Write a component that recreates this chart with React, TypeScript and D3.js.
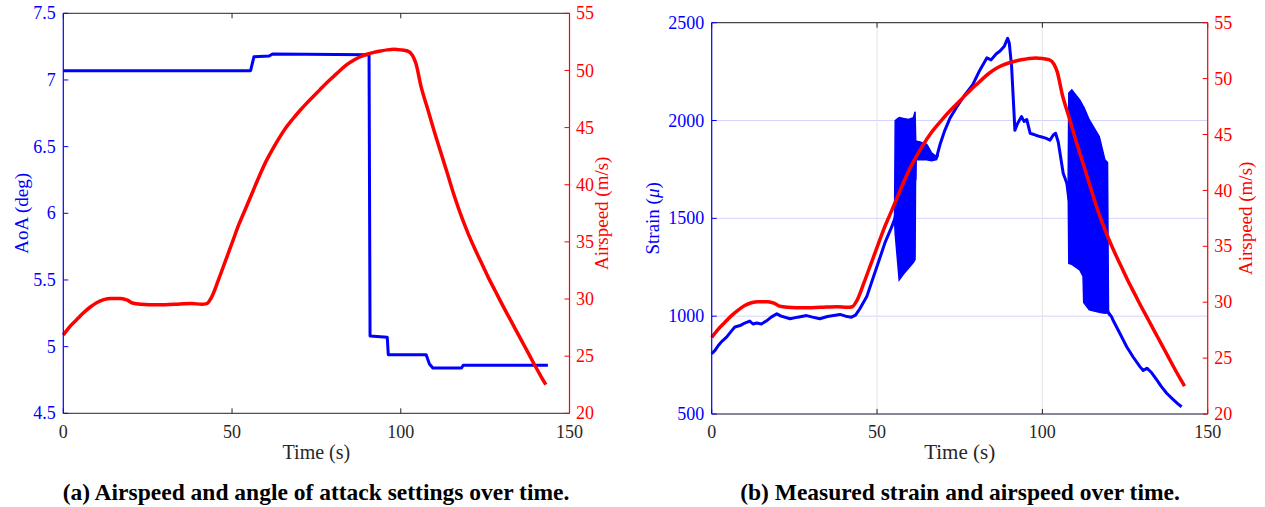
import React from 'react';
import * as d3 from 'd3';

// ---------- data ----------
const xTicks = [0, 50, 100, 150];
const aoaTicks = [4.5, 5, 5.5, 6, 6.5, 7, 7.5];
const airspeedTicks = [20, 25, 30, 35, 40, 45, 50, 55];
const strainTicks = [500, 1000, 1500, 2000, 2500];

// airspeed (m/s) vs time (s)
const airspeedData: [number, number][] = [
  [0, 26.85], [2, 27.6], [4, 28.2], [6, 28.8], [8, 29.3], [10, 29.7], [12, 29.95], [14, 30.05],
  [17, 30.05], [19, 29.9], [20.5, 29.65], [23, 29.55], [28, 29.5], [33, 29.55], [38, 29.6],
  [41, 29.55], [42.5, 29.6], [44, 30.2], [46, 31.7], [48, 33.3], [50, 34.9], [52, 36.5],
  [54, 37.9], [56, 39.3], [58, 40.7], [60, 42.0], [62, 43.1], [64, 44.1], [66, 45.0],
  [68, 45.75], [70, 46.45], [72, 47.1], [74, 47.7], [76, 48.3], [78, 48.9], [80, 49.45],
  [82, 50.0], [84, 50.5], [86, 50.9], [88, 51.2], [90, 51.42], [92, 51.58], [94, 51.7],
  [96, 51.8], [98, 51.85], [100, 51.8], [102, 51.7], [103.5, 51.3], [104.5, 50.6],
  [106, 48.6], [108, 46.6], [110, 44.6], [112, 42.7], [114, 40.8], [116, 38.9], [118, 37.2],
  [120, 35.7], [122, 34.35], [124, 33.1], [126, 31.85], [128, 30.7], [130, 29.55],
  [132, 28.45], [134, 27.35], [136, 26.25], [138, 25.15], [140, 24.05], [142, 23.0], [143, 22.5],
];

// angle of attack (deg) vs time (s)
const aoaData: [number, number][] = [
  [0, 7.07], [55.5, 7.07], [56.5, 7.175], [61, 7.18], [62, 7.195], [90.6, 7.19],
  [90.9, 5.08], [96, 5.07], [96.3, 4.94], [107.5, 4.94], [108.5, 4.87], [109.5, 4.84],
  [118, 4.84], [118.5, 4.86], [143.6, 4.86],
];

// strain (micro) vs time (s)
const strainData: [number, number][] = [
  [0, 808], [1, 825], [2, 850], [3, 870], [4.5, 893], [6, 925], [7, 945], [8.6, 952],
  [10, 965], [11.5, 975], [12.5, 960], [13.6, 965], [15, 960], [16.5, 975], [18, 995],
  [19.7, 1012], [21, 1000], [23.7, 987], [26, 995], [28.7, 1003], [30.5, 995], [32.7, 987],
  [35, 998], [38.8, 1009], [40.5, 1000], [42.3, 995], [43.5, 1005], [44.8, 1038],
  [46.9, 1100], [48.9, 1200], [50.9, 1300], [52.5, 1380], [54.4, 1455], [55.4, 1500],
  [56.5, 1600], [61.5, 1700], [61.7, 1885], [63, 1880], [65, 1870], [66.5, 1820],
  [68, 1812], [69.1, 1880], [70.5, 1950], [72, 2010], [74, 2067], [76.5, 2130], [79, 2185],
  [81, 2255], [83.2, 2320], [84.5, 2310], [86, 2340], [87.2, 2355], [88.5, 2380],
  [89.5, 2420], [90, 2395], [90.7, 2275], [91.7, 1950], [92.5, 1985], [93.7, 2020],
  [94.5, 1995], [95.3, 2005], [96.3, 1935], [98, 1925], [99.3, 1918], [101, 1910],
  [102.3, 1900], [103.3, 1926], [104, 1935], [104.8, 1890], [106.3, 1730], [107.4, 1679],
  [108, 1600], [114, 1300], [119.9, 1020], [120.9, 998], [121.5, 975], [123.5, 910],
  [125.5, 844], [127.5, 790], [129.5, 742], [130.5, 722], [131.6, 734], [133, 712],
  [134.6, 674], [136, 640], [137.6, 606], [139.5, 575], [141, 552], [142.1, 537],
];

// oscillation envelopes of the strain signal: [time, high, low]
const strainBand1: [number, number, number][] = [
  [55.3, 1500, 1490], [55.5, 2000, 1420], [56.7, 2015, 1185], [58, 2010, 1215],
  [59.5, 2005, 1245], [61, 2015, 1275], [61.5, 2045, 1290], [61.7, 1890, 1870],
];
const strainBand3: [number, number, number][] = [
  [61.6, 1895, 1800], [63, 1890, 1800], [65, 1878, 1800], [66.5, 1835, 1795],
  [68, 1815, 1800], [68.5, 1830, 1822],
];
const strainBand2: [number, number, number][] = [
  [107.8, 1690, 1660], [108.0, 2140, 1270], [108.9, 2156, 1265], [111.3, 2105, 1236],
  [112.3, 2075, 1205], [112.5, 2070, 1070], [114.2, 2003, 1032], [117.2, 1918, 1020],
  [118.9, 1800, 1015], [119.7, 1785, 1018], [120.0, 1030, 1010],
];

// ---------- styling ----------
const FONT = "'Liberation Serif', 'Times New Roman', serif";
const BLUE = '#0000ff';
const RED = '#ff0000';
const AX = '#262626';
const W = 1265;
const H = 507;
const TICK = 5;

type AxesProps = {
  x: d3.ScaleLinear<number, number>;
  yL: d3.ScaleLinear<number, number>;
  yR: d3.ScaleLinear<number, number>;
  leftTicks: number[];
  leftLabel: React.ReactNode;
  leftLabelX: number;
  rightLabelX: number;
  timeSize: number;
};

function Frame({ x, yL, yR, leftTicks, leftLabel, leftLabelX, rightLabelX, timeSize }: AxesProps) {
  const [xa, xb] = x.range();
  const [yb, ya] = yL.range();
  const midY = (ya + yb) / 2;
  return (
    <g fontFamily={FONT}>
      <line x1={xa} x2={xb} y1={ya} y2={ya} stroke={AX} strokeWidth={1} />
      <line x1={xa} x2={xb} y1={yb} y2={yb} stroke={AX} strokeWidth={1} />
      {xTicks.map((t) => (
        <g key={'xt' + t}>
          <line x1={x(t)} x2={x(t)} y1={yb} y2={yb - TICK} stroke={AX} />
          <line x1={x(t)} x2={x(t)} y1={ya} y2={ya + TICK} stroke={AX} />
          <text x={x(t)} y={438} fontSize={18} fill={AX} textAnchor="middle">
            {t}
          </text>
        </g>
      ))}
      <line x1={xa} x2={xa} y1={ya} y2={yb} stroke={BLUE} strokeWidth={1.2} />
      {leftTicks.map((t) => (
        <g key={'yl' + t}>
          <line x1={xa} x2={xa + TICK} y1={yL(t)} y2={yL(t)} stroke={BLUE} />
          <text x={xa - 7.5} y={yL(t)} dy="0.34em" fontSize={18} fill={BLUE} textAnchor="end">
            {t}
          </text>
        </g>
      ))}
      <line x1={xb} x2={xb} y1={ya} y2={yb} stroke={RED} strokeWidth={1.2} />
      {airspeedTicks.map((t) => (
        <g key={'yr' + t}>
          <line x1={xb} x2={xb - TICK} y1={yR(t)} y2={yR(t)} stroke={RED} />
          <text x={xb + 6.5} y={yR(t)} dy="0.34em" fontSize={18} fill={RED} textAnchor="start">
            {t}
          </text>
        </g>
      ))}
      <text x={(xa + xb) / 2} y={459} fontSize={timeSize} fill={AX} textAnchor="middle">
        Time (s)
      </text>
      <text
        transform={`translate(${leftLabelX},${midY}) rotate(-90)`}
        fontSize={19}
        fill={BLUE}
        textAnchor="middle"
      >
        {leftLabel}
      </text>
      <text
        transform={`translate(${rightLabelX},${midY}) rotate(-90)`}
        fontSize={19}
        fill={RED}
        textAnchor="middle"
      >
        Airspeed (m/s)
      </text>
    </g>
  );
}

export default function App() {
  const xA = d3.scaleLinear().domain([0, 150]).range([63.3, 569.5]);
  const yAoA = d3.scaleLinear().domain([4.5, 7.5]).range([413.3, 13.3]);
  const ySpdA = d3.scaleLinear().domain([20, 55]).range([413.3, 13.3]);

  const xB = d3.scaleLinear().domain([0, 150]).range([711.7, 1207.7]);
  const yStr = d3.scaleLinear().domain([500, 2500]).range([414, 22.7]);
  const ySpdB = d3.scaleLinear().domain([20, 55]).range([414, 22.7]);

  const lineA_aoa = d3.line<[number, number]>().x((d) => xA(d[0])).y((d) => yAoA(d[1]));
  const lineA_spd = d3
    .line<[number, number]>()
    .x((d) => xA(d[0]))
    .y((d) => ySpdA(d[1]))
    .curve(d3.curveMonotoneX);
  const lineB_str = d3.line<[number, number]>().x((d) => xB(d[0])).y((d) => yStr(d[1]));
  const lineB_spd = d3
    .line<[number, number]>()
    .x((d) => xB(d[0]))
    .y((d) => ySpdB(d[1]))
    .curve(d3.curveMonotoneX);
  const bandArea = d3
    .area<[number, number, number]>()
    .x((d) => xB(d[0]))
    .y0((d) => yStr(d[2]))
    .y1((d) => yStr(d[1]));

  return (
    <svg
      width={W}
      height={H}
      viewBox={`0 0 ${W} ${H}`}
      style={{ position: 'absolute', left: 0, top: 0, background: '#fff' }}
    >
      <rect width={W} height={H} fill="#fff" />

      {/* ===== panel (a) ===== */}
      <g>
        <path d={lineA_aoa(aoaData) ?? ''} fill="none" stroke={BLUE} strokeWidth={3} strokeLinejoin="round" />
        <path d={lineA_spd(airspeedData) ?? ''} fill="none" stroke={RED} strokeWidth={3.5} strokeLinejoin="round" />
        <Frame
          x={xA}
          yL={yAoA}
          yR={ySpdA}
          leftTicks={aoaTicks}
          leftLabel="AoA (deg)"
          leftLabelX={28}
          rightLabelX={608}
          timeSize={20}
        />
        <text x={316} y={500} fontFamily={FONT} fontWeight="bold" fontSize={23.5} textAnchor="middle" fill="#000">
          (a) Airspeed and angle of attack settings over time.
        </text>
      </g>

      {/* ===== panel (b) ===== */}
      <g>
        {strainTicks.map((t) => (
          <line key={'gh' + t} x1={xB(0)} x2={xB(150)} y1={yStr(t)} y2={yStr(t)} stroke="#d4d4ff" strokeWidth={1} />
        ))}
        {xTicks.map((t) => (
          <line key={'gv' + t} x1={xB(t)} x2={xB(t)} y1={yStr(500)} y2={yStr(2500)} stroke="#e3e3e3" strokeWidth={1} />
        ))}
        <path d={bandArea(strainBand1) ?? ''} fill={BLUE} stroke={BLUE} strokeWidth={1.5} />
        <path d={bandArea(strainBand3) ?? ''} fill={BLUE} stroke={BLUE} strokeWidth={1.5} />
        <path d={bandArea(strainBand2) ?? ''} fill={BLUE} stroke={BLUE} strokeWidth={1.5} />
        <path d={lineB_str(strainData) ?? ''} fill="none" stroke={BLUE} strokeWidth={3} strokeLinejoin="round" />
        <path d={lineB_spd(airspeedData) ?? ''} fill="none" stroke={RED} strokeWidth={3.5} strokeLinejoin="round" />
        <Frame
          x={xB}
          yL={yStr}
          yR={ySpdB}
          leftTicks={strainTicks}
          leftLabel={
            <>
              Strain (<tspan fontStyle="italic">μ</tspan>)
            </>
          }
          leftLabelX={659}
          rightLabelX={1252}
          timeSize={21}
        />
        <text x={960} y={500} fontFamily={FONT} fontWeight="bold" fontSize={23.5} textAnchor="middle" fill="#000">
          (b) Measured strain and airspeed over time.
        </text>
      </g>
    </svg>
  );
}
